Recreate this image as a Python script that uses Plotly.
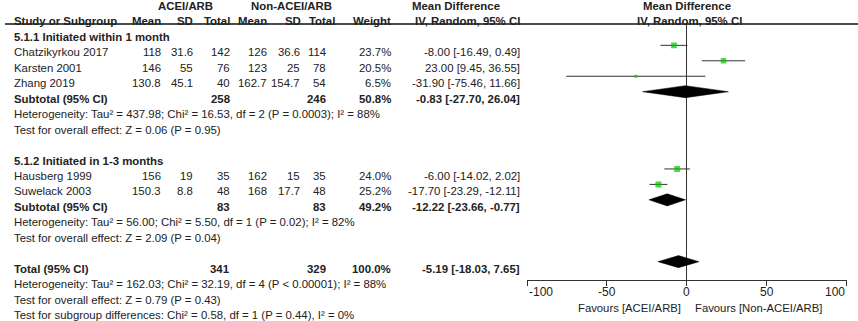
import plotly.graph_objects as go

# ---------------- data ----------------
studies = ["Chatzikyrkou 2017", "Karsten 2001", "Zhang 2019", "Hausberg 1999", "Suwelack 2003"]
mean_a = [118, 146, 130.8, 156, 150.3]
sd_a = [31.6, 55, 45.1, 19, 8.8]
n_a = [142, 76, 40, 35, 48]
mean_b = [126, 123, 162.7, 162, 168]
sd_b = [36.6, 25, 154.7, 15, 17.7]
n_b = [114, 78, 54, 35, 48]
weight = [23.7, 20.5, 6.5, 24.0, 25.2]
md = [-8.00, 23.00, -31.90, -6.00, -17.70]
ci_lo = [-16.49, 9.45, -75.46, -14.02, -23.29]
ci_hi = [0.49, 36.55, 11.66, 2.02, -12.11]

groups = ["5.1.1 Initiated within 1 month", "5.1.2 Initiated in 1-3 months"]
sub_n_a = [258, 83]
sub_n_b = [246, 83]
sub_weight = [50.8, 49.2]
sub_md = [-0.83, -12.22]
sub_lo = [-27.70, -23.66]
sub_hi = [26.04, -0.77]
sub_het = ["Heterogeneity: Tau² = 437.98; Chi² = 16.53, df = 2 (P = 0.0003); I² = 88%",
           "Heterogeneity: Tau² = 56.00; Chi² = 5.50, df = 1 (P = 0.02); I² = 82%"]
sub_test = ["Test for overall effect: Z = 0.06 (P = 0.95)",
            "Test for overall effect: Z = 2.09 (P = 0.04)"]

tot_n_a = 341
tot_n_b = 329
tot_weight = 100.0
tot_md = -5.19
tot_lo = -18.03
tot_hi = 7.65
tot_het = "Heterogeneity: Tau² = 162.03; Chi² = 32.19, df = 4 (P < 0.00001); I² = 88%"
tot_test = "Test for overall effect: Z = 0.79 (P = 0.43)"
tot_sub = "Test for subgroup differences: Chi² = 0.58, df = 1 (P = 0.44), I² = 0%"

x_ticks = [-100, -50, 0, 50, 100]
fav_left = "Favours [ACEI/ARB]"
fav_right = "Favours [Non-ACEI/ARB]"

# ---------------- layout helpers ----------------
W, H = 858, 321
ROW0, ROWH = 6.0, 15.45       # text pixel row positions
MARK_OFF = 3.5                # marks sit slightly above text centre
FONT = "Liberation Sans, Arial, sans-serif"
FS = 11.4
TXT = "#222222"

def py(row):
    return 1 - (ROW0 + ROWH * row) / H

def px(x):
    return x / W

study_rows = [3, 4, 5, 11, 12]
group_rows = [2, 10]
sub_rows = [6, 13]
het_rows = [7, 14]
test_rows = [8, 15]
tot_row = 17

cols_right = {"mean_a": 163, "sd_a": 195, "n_a": 232, "mean_b": 269, "sd_b": 302,
              "n_b": 328, "w": 393, "ci": 522}
LEFT = 12

ann = []

def t(x, row, text, anchor="right", bold=False, size=FS):
    ann.append(dict(x=px(x), y=py(row), xref="paper", yref="paper",
                    text=f"<b>{text}</b>" if bold else text,
                    xanchor=anchor, yanchor="middle", showarrow=False,
                    font=dict(family=FONT, size=size, color=TXT)))

# headers
t(185, 0, "ACEI/ARB", "center", True)
t(291, 0, "Non-ACEI/ARB", "center", True)
t(456, 0, "Mean Difference", "center", True)
t(687, 0, "Mean Difference", "center", True)
t(LEFT, 1, "Study or Subgroup", "left", True)
t(cols_right["mean_a"], 1, "Mean", bold=True)
t(cols_right["sd_a"], 1, "SD", bold=True)
t(cols_right["n_a"], 1, "Total", bold=True)
t(cols_right["mean_b"], 1, "Mean", bold=True)
t(303, 1, "SD", bold=True)
t(337, 1, "Total", bold=True)
t(cols_right["w"], 1, "Weight", bold=True)
t(cols_right["ci"], 1, "IV, Random, 95% CI", bold=True)
t(689, 1, "IV, Random, 95% CI", "center", True)

def fci(m, lo, hi):
    return f"{m:.2f} [{lo:.2f}, {hi:.2f}]"

for i, s in enumerate(studies):
    r = study_rows[i]
    t(LEFT, r, s, "left")
    t(cols_right["mean_a"], r, f"{mean_a[i]:g}")
    t(cols_right["sd_a"], r, f"{sd_a[i]:g}")
    t(cols_right["n_a"], r, f"{n_a[i]}")
    t(cols_right["mean_b"], r, f"{mean_b[i]:g}")
    t(cols_right["sd_b"], r, f"{sd_b[i]:g}")
    t(cols_right["n_b"], r, f"{n_b[i]}")
    t(cols_right["w"], r, f"{weight[i]:.1f}%")
    t(cols_right["ci"], r, fci(md[i], ci_lo[i], ci_hi[i]))

for g in range(2):
    t(LEFT, group_rows[g], groups[g], "left", True)
    r = sub_rows[g]
    t(LEFT, r, "Subtotal (95% CI)", "left", True)
    t(cols_right["n_a"], r, f"{sub_n_a[g]}", bold=True)
    t(cols_right["n_b"], r, f"{sub_n_b[g]}", bold=True)
    t(cols_right["w"], r, f"{sub_weight[g]:.1f}%", bold=True)
    t(cols_right["ci"], r, fci(sub_md[g], sub_lo[g], sub_hi[g]), bold=True)
    t(LEFT, het_rows[g], sub_het[g], "left")
    t(LEFT, test_rows[g], sub_test[g], "left")

t(LEFT, tot_row, "Total (95% CI)", "left", True)
t(cols_right["n_a"], tot_row, f"{tot_n_a}", bold=True)
t(cols_right["n_b"], tot_row, f"{tot_n_b}", bold=True)
t(cols_right["w"], tot_row, f"{tot_weight:.1f}%", bold=True)
t(cols_right["ci"], tot_row, fci(tot_md, tot_lo, tot_hi), bold=True)
t(LEFT, 18, tot_het, "left")
t(LEFT, 19, tot_test, "left")
t(LEFT, 20, tot_sub, "left")

# tick labels: end labels aligned inward, as in the reference
for v in x_ticks:
    anchor = "left" if v == min(x_ticks) else ("right" if v == max(x_ticks) else "center")
    ann.append(dict(x=v, y=1 - 292 / H, xref="x", yref="paper", text=str(v),
                    xanchor=anchor, yanchor="middle", showarrow=False,
                    font=dict(family=FONT, size=12, color=TXT)))

# favours labels (anchored on the plot's x axis)
ann.append(dict(x=0, y=1 - 308 / H, xref="x", yref="paper", text=fav_left,
                xanchor="right", xshift=-4, yanchor="middle", showarrow=False,
                font=dict(family=FONT, size=11.3, color=TXT)))
ann.append(dict(x=0, y=1 - 308 / H, xref="x", yref="paper", text=fav_right,
                xanchor="left", xshift=6, yanchor="middle", showarrow=False,
                font=dict(family=FONT, size=11.3, color=TXT)))

fig = go.Figure()

def my(row):
    return row - MARK_OFF / ROWH

# CI lines
for i in range(len(studies)):
    fig.add_trace(go.Scatter(x=[ci_lo[i], ci_hi[i]], y=[my(study_rows[i])] * 2,
                             mode="lines", line=dict(color="#333333", width=1),
                             hoverinfo="skip", showlegend=False))
# squares
fig.add_trace(go.Scatter(x=md, y=[my(r) for r in study_rows], mode="markers",
                         marker=dict(symbol="square", color="#00C400",
                                     size=[1.2 * w ** 0.5 for w in weight],
                                     line=dict(width=0)),
                         showlegend=False))

# diamonds
DH = 0.39
def diamond(m, lo, hi, row):
    y = my(row)
    fig.add_trace(go.Scatter(x=[lo, m, hi, m, lo], y=[y, y - DH, y, y + DH, y],
                             mode="lines", fill="toself", fillcolor="black",
                             line=dict(color="black", width=0.5),
                             hoverinfo="skip", showlegend=False))

for g in range(2):
    diamond(sub_md[g], sub_lo[g], sub_hi[g], sub_rows[g])
diamond(tot_md, tot_lo, tot_hi, tot_row)

top_px, bot_px = 24, 280
mark_row = lambda p: (p - (ROW0 - MARK_OFF)) / ROWH

fig.update_layout(
    width=W, height=H, margin=dict(l=0, r=0, t=0, b=0),
    paper_bgcolor="white", plot_bgcolor="white",
    annotations=ann,
    xaxis=dict(domain=[527 / W, 846.5 / W], range=[-100, 100],
               tickvals=x_ticks, showticklabels=False,
               showgrid=False, zeroline=True, zerolinecolor="#333333", zerolinewidth=1,
               showline=True, linecolor="#333333", linewidth=1,
               ticks="outside", ticklen=5, tickcolor="#333333", fixedrange=True),
    yaxis=dict(domain=[1 - bot_px / H, 1 - top_px / H],
               range=[mark_row(bot_px), mark_row(top_px)],
               showgrid=False, zeroline=False, showline=False,
               showticklabels=False, ticks="", fixedrange=True),
    shapes=[dict(type="line", xref="paper", yref="paper",
                 x0=5 / W, x1=1, y0=1 - 24 / H, y1=1 - 24 / H,
                 line=dict(color="#111111", width=1.5))],
)

fig.write_html("out.html", config={"displayModeBar": False},
               post_script="document.body.style.margin='0px';document.body.style.overflow='hidden';")
